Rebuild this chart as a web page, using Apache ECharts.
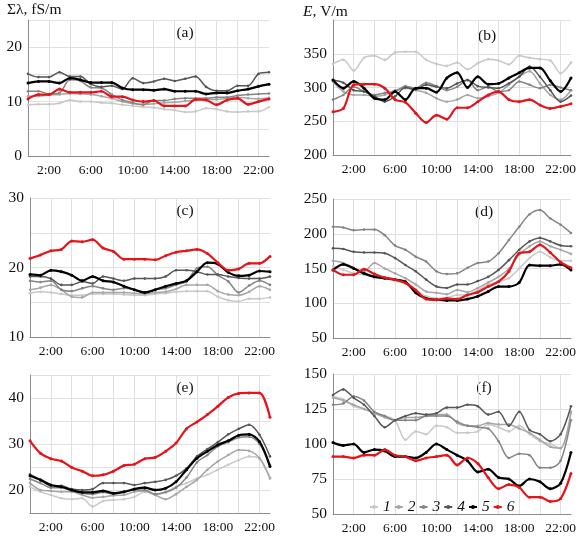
<!DOCTYPE html>
<html><head><meta charset="utf-8">
<script src="https://cdn.jsdelivr.net/npm/echarts@6/dist/echarts.min.js"></script>
<style>html,body{margin:0;padding:0;background:#fff}#c{width:579px;height:539px}</style>
</head><body><div id="c"></div>
<script>
const hours = ['0:00','1:00','2:00','3:00','4:00','5:00','6:00','7:00','8:00','9:00','10:00','11:00','12:00','13:00','14:00','15:00','16:00','17:00','18:00','19:00','20:00','21:00','22:00','23:00'];
const seriesNames = ['1','2','3','4','5','6'];
const panelLabels = ['(a)','(b)','(c)','(d)','(e)','(f)'];

// (a) Σλ, fS/m
const a1 = [9.4,9.5,9.5,9.7,10.3,10.0,10.0,9.8,9.7,9.4,9.2,9.0,8.9,8.6,8.4,8.1,8.2,8.8,8.6,8.2,8.1,8.2,8.2,9.0];
const a2 = [11.0,11.0,11.2,11.3,11.5,11.4,11.3,11.0,10.6,10.0,9.6,9.5,9.6,9.8,9.9,10.1,10.3,10.4,10.4,10.6,10.8,10.6,10.5,10.7];
const a3 = [11.9,11.9,11.4,11.6,14.0,13.8,12.6,12.5,11.3,10.3,9.8,9.4,10.2,10.2,10.5,10.6,10.6,10.6,10.8,10.8,11.1,11.3,11.4,11.5];
const a4 = [15.1,14.5,14.5,15.4,14.6,14.6,13.2,12.7,12.9,12.3,14.3,13.4,13.7,14.2,13.8,14.2,14.6,12.7,12.0,12.0,12.9,12.9,15.1,15.4];
const a5 = [13.4,13.7,13.7,13.4,14.3,14.0,13.5,13.5,13.5,12.5,12.2,12.2,12.1,12.3,11.9,11.9,11.9,11.4,11.6,11.6,12.0,12.3,12.8,13.2];
const a6 = [10.5,11.3,11.3,12.3,11.7,11.7,11.7,11.9,10.9,10.9,10.3,10.0,10.2,9.2,9.2,9.2,10.4,10.3,9.4,10.3,10.6,9.5,10.0,10.5];

// (b) E, V/m
const b1 = [335,341,325,344,347,341,352,353,353,341,335,332,337,327,336,342,340,334,347,344,342,340,321,337];
const b2 = [309,294,289,289,287,289,296,299,296,292,284,279,282,289,284,287,292,304,316,324,306,289,282,296];
const b3 = [282,289,301,294,289,292,294,302,299,307,302,296,301,311,296,301,294,296,309,304,299,304,300,296];
const b4 = [311,307,296,294,287,279,287,300,297,304,301,299,306,311,302,300,299,306,316,331,316,296,279,288];
const b5 = [311,299,309,299,284,282,294,282,299,299,293,314,322,300,316,305,306,314,322,329,329,310,294,314];
const b6 = [264,269,304,305,305,299,282,278,262,248,259,253,270,270,279,289,294,282,279,282,274,269,272,276];

// (c)
const c1 = [16.3,16.5,16.4,16.2,16.0,16.0,16.2,16.2,16.2,16.1,16.0,16.0,16.2,16.3,16.5,16.6,16.6,16.6,15.8,15.3,15.1,15.5,15.5,15.7];
const c2 = [16.8,17.1,17.5,16.8,15.8,15.7,16.4,16.4,16.4,16.4,16.3,16.2,16.4,16.5,16.9,17.5,17.5,17.5,16.6,16.1,16.0,16.5,17.3,16.8];
const c3 = [18.1,17.9,18.1,16.8,16.6,17.0,17.3,17.0,16.8,17.0,16.8,16.4,16.8,17.0,17.5,18.0,19.9,20.1,18.9,18.0,16.4,17.4,18.1,17.5];
const c4 = [18.7,18.7,18.4,17.5,17.5,18.0,17.7,18.7,18.4,18.1,18.4,18.4,18.4,18.7,19.6,19.6,19.4,19.0,19.0,18.7,18.5,18.4,18.4,18.7];
const c5 = [19.0,18.9,19.6,19.4,18.9,18.1,18.7,18.1,17.9,17.3,16.8,16.4,16.8,17.3,17.7,18.1,19.4,20.7,20.5,19.3,18.8,18.9,19.5,19.4];
const c6 = [21.3,21.8,22.4,22.6,23.8,23.7,24.0,22.8,22.3,21.2,21.2,21.2,21.1,21.7,22.2,22.4,22.6,22.0,20.7,19.6,19.8,20.6,20.6,21.6];

// (d)
const d1 = [153,148,143,141,138,136,132,129,119,110,107,108,112,112,119,127,131,136,150,165,174,166,161,161];
const d2 = [161,158,151,146,158,150,143,136,127,117,115,113,119,116,122,130,138,150,170,182,189,182,177,171];
const d3 = [210,209,205,206,206,198,183,177,167,160,146,142,143,151,158,160,172,191,210,228,234,222,213,201];
const d4 = [179,178,174,173,173,172,165,155,146,134,124,122,127,127,132,138,148,162,177,189,194,189,183,182];
const d5 = [148,156,150,143,138,136,134,131,115,107,105,104,104,106,110,117,124,124,130,155,154,154,156,148];
const d6 = [148,141,141,149,142,137,134,129,119,106,105,107,106,112,116,124,131,146,172,174,184,173,159,151];

// (e)
const e1 = [20.7,19.6,18.9,18.2,18.0,18.2,16.4,17.6,17.8,18.0,18.5,19.6,19.1,19.6,20.7,21.5,22.5,23.3,24.4,25.5,26.5,27.3,26.9,22.7];
const e2 = [21.5,20.0,19.8,19.6,19.6,18.9,18.3,18.5,18.8,18.9,19.6,19.8,18.9,18.0,19.1,20.7,22.2,24.4,26.2,27.6,28.7,28.5,26.9,22.5];
const e3 = [22.4,21.5,20.5,20.5,19.8,19.3,19.1,19.5,19.1,19.5,20.0,20.0,19.1,19.5,20.5,22.7,26.0,27.6,29.5,30.4,31.4,31.6,30.0,25.5];
const e4 = [23.4,22.2,20.9,20.9,20.2,20.0,20.2,21.5,21.5,21.5,21.1,21.5,21.8,22.2,23.1,24.7,27.3,28.9,30.4,32.1,33.3,34.2,32.0,27.3];
const e5 = [23.1,22.2,21.1,20.7,20.0,19.5,19.5,19.8,19.3,19.6,20.2,20.5,20.0,20.4,21.8,24.4,26.9,28.4,29.8,30.7,31.9,32.1,30.5,25.1];
const e6 = [30.7,28.0,26.8,26.3,24.9,24.1,23.1,23.3,24.1,25.3,25.6,26.8,27.1,28.4,30.2,33.3,34.8,36.4,38.2,40.1,41.0,41.1,41.1,35.8];

// (f)
const f1 = [134,132,127,125,122,120,117,103,109,107,113,112,108,108,109,114,112,109,113,107,102,100,97,122];
const f2 = [133,131,128,125,122,119,117,119,119,120,121,121,115,113,113,115,114,114,111,108,103,98,97,123];
const f3 = [128,129,134,131,123,120,117,117,117,120,120,120,116,113,112,111,102,90,93,92,83,83,88,117];
const f4 = [135,139,133,128,120,112,117,120,122,121,122,126,126,128,127,121,123,113,123,110,107,102,107,127];
const f5 = [101,99,100,94,96,95,91,91,90,94,100,96,92,88,80,82,76,75,70,75,73,68,72,94];
const f6 = [91,91,90,92,92,96,92,91,88,90,91,92,85,90,86,76,68,71,69,62,62,59,61,79];

const panelData = [[a1,a2,a3,a4,a5,a6],[b1,b2,b3,b4,b5,b6],[c1,c2,c3,c4,c5,c6],[d1,d2,d3,d4,d5,d6],[e1,e2,e3,e4,e5,e6],[f1,f2,f3,f4,f5,f6]];

const colors = ['#c8c8c8','#a6a6a6','#858585','#565656','#000000','#e4141b'];
const widths = [1.5,1.5,1.5,1.5,2.2,2.2];

const grids = [
  {left:28, top:20, width:241, height:136},
  {left:333, top:20, width:239, height:135},
  {left:30, top:198, width:240, height:139},
  {left:333, top:199, width:240, height:139},
  {left:30, top:375, width:240, height:138},
  {left:333, top:374, width:240, height:140}
];
const yCfg = [
  {min:0, max:25, interval:5, step:10},
  {min:200, max:400, interval:50, step:50, hideMax:true},
  {min:10, max:30, interval:5, step:10},
  {min:50, max:250, interval:50, step:50},
  {min:15, max:45, interval:5, step:10},
  {min:50, max:150, interval:25, step:25}
];

const serif = '"Liberation Serif","Times New Roman",serif';
const xAxes = grids.map((g,i)=>({
  type:'category', gridIndex:i, data:hours, boundaryGap:false,
  axisLine:{lineStyle:{color:'#8c8c8c', width:1}},
  axisTick:{show:false},
  axisLabel:{interval:(idx)=>idx%4===2, fontFamily:serif, fontSize:13.5, color:'#111', margin:7},
  splitLine:{show:true, interval:(idx)=>idx%2===0, lineStyle:{color:'#e0e0e0', width:1}}
}));
const yAxes = yCfg.map((c,i)=>({
  type:'value', gridIndex:i, min:c.min, max:c.max, interval:c.interval,
  axisLine:{show:true, lineStyle:{color:'#8c8c8c', width:1}},
  axisTick:{show:false},
  axisLabel:{fontFamily:serif, fontSize:15.5, color:'#111', margin:6,
    formatter:(v)=>{ if (c.hideMax && v===c.max) return ''; return v%c.step===0 ? String(v) : ''; }},
  splitLine:{show:true, lineStyle:{color:'#e0e0e0', width:1}}
}));

const series = [];
panelData.forEach((arrs,gi)=>{
  arrs.forEach((arr,k)=>{
    series.push({
      type:'line', name:seriesNames[k], xAxisIndex:gi, yAxisIndex:gi, data:arr,
      smooth:0.3, symbol:'circle', symbolSize:k>=4?3:2.6, showSymbol:true,
      lineStyle:{color:colors[k], width:widths[k]},
      itemStyle:{color:colors[k]},
      z: 2+k, animation:false
    });
  });
});

const labelPos = [[185,33],[487,36],[185,211],[484,212],[185,388],[484,388]];
const graphic = labelPos.map((p,i)=>({
  type:'text', x:p[0], y:p[1],
  style:{text:panelLabels[i], font:'15.5px '+serif, fill:'#111', textAlign:'center', textVerticalAlign:'middle'}
}));
graphic.push({type:'text', x:7, y:10, style:{text:'Σλ, fS/m', font:'15.5px '+serif, fill:'#111', textAlign:'left', textVerticalAlign:'middle'}});
graphic.push({type:'text', x:303, y:12, style:{
  text:'{i|E}{n|, V/m}', textAlign:'left', textVerticalAlign:'middle',
  rich:{i:{fontFamily:serif, fontSize:15.5, fontStyle:'italic', fill:'#111'}, n:{fontFamily:serif, fontSize:15.5, fill:'#111'}}
}});

const chart = echarts.init(document.getElementById('c'), null, {renderer:'canvas'});
chart.setOption({
  animation:false,
  backgroundColor:'#fff',
  grid:grids,
  xAxis:xAxes,
  yAxis:yAxes,
  legend:{
    data:seriesNames, left:364, top:494, itemWidth:8, itemHeight:5, itemGap:3,
    textStyle:{fontFamily:serif, fontSize:15.5, fontStyle:'italic', color:'#111'}
  },
  series:series,
  graphic:graphic
});
</script></body></html>
